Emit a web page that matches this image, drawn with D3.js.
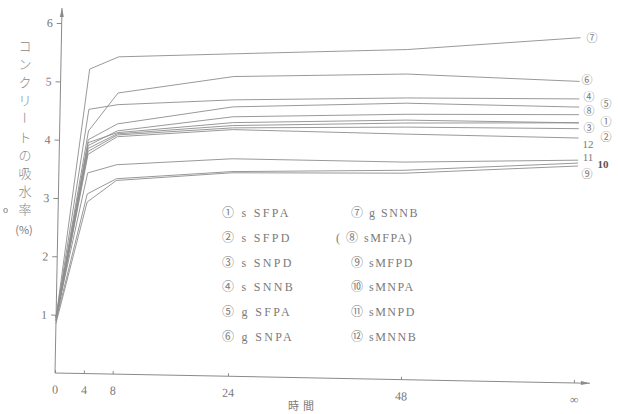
<!DOCTYPE html>
<html>
<head>
<meta charset="utf-8">
<script src="https://cdn.jsdelivr.net/npm/d3@7"></script>
<style>
  body { margin: 0; background: #fff; }
</style>
</head>
<body>
<div id="chart"></div>
<script>
// time (h), last point is "∞"
hours = [0, 4, 8, 24, 48, 72]
hourLabels = ["0", "4", "8", "24", "48", "∞"]
yTicks = [1, 2, 3, 4, 5, 6]

circled = ["①", "②", "③", "④", "⑤", "⑥", "⑦", "⑧", "⑨", "⑩", "⑪", "⑫"]
names = ["s SFPA", "s SFPD", "s SNPD", "s SNNB", "g SFPA", "g SNPA",
         "g SNNB", "sMFPA", "sMFPD", "sMNPA", "sMNPD", "sMNNB"]

// water absorption (%) per series, at hours[]
s1  = [0.95, 3.96, 4.14, 4.35, 4.45, 4.46]
s2  = [0.90, 3.81, 4.10, 4.26, 4.33, 4.36]
s3  = [0.90, 3.86, 4.12, 4.30, 4.40, 4.46]
s4  = [0.95, 4.53, 4.62, 4.74, 4.83, 4.87]
s5  = [0.95, 4.01, 4.29, 4.62, 4.74, 4.73]
s6  = [0.95, 4.16, 4.82, 5.14, 5.24, 5.17]
s7  = [0.95, 5.22, 5.44, 5.53, 5.66, 5.92]
s8  = [0.95, 3.91, 4.17, 4.45, 4.55, 4.60]
s9  = [0.85, 2.94, 3.32, 3.49, 3.54, 3.72]
s10 = [0.90, 3.08, 3.35, 3.51, 3.59, 3.77]
s11 = [0.95, 3.44, 3.59, 3.73, 3.73, 3.82]
s12 = [0.90, 3.76, 4.07, 4.23, 4.21, 4.20]
series = [s1, s2, s3, s4, s5, s6, s7, s8, s9, s10, s11, s12]

// labels written at the right end of the lines
endLabels = ["⑦", "⑥", "④", "⑤", "⑧", "①", "③", "②", "12", "11", "10", "⑨"]

width = 618
height = 414
ox = 55, oy = 373   // origin of the plot

grey = "#8a8a8a"
txt = "#7a7a7a"
serif = "'Liberation Serif', 'Noto Sans CJK JP', serif"
jp = "'Noto Sans CJK JP', sans-serif"

svg = d3.select("#chart")
  .append("svg")
  .attr("width", width)
  .attr("height", height)
  .style("font-family", serif)

// the scanned figure is turned by about one degree
plot = svg.append("g")
  .attr("transform", `rotate(1.1, ${ox}, ${oy})`)

x = d3.scaleLinear().domain([0, 72]).range([ox, 574])
y = d3.scaleLinear().domain([0, 6]).range([oy, 23])

// x axis
xAxis = plot.append("g")
  .attr("transform", `translate(0, ${oy})`)
  .call(d3.axisBottom(x).tickValues(hours).tickSize(-3).tickPadding(12)
    .tickFormat((d, i) => hourLabels[i]))
xAxis.attr("font-family", null).attr("font-size", null)
xAxis.select(".domain").remove()
xAxis.selectAll("line").attr("stroke", grey)
xAxis.selectAll("text").style("font-family", serif).style("font-size", "12px").attr("fill", txt)

// y axis
yAxis = plot.append("g")
  .attr("transform", `translate(${ox}, 0)`)
  .call(d3.axisLeft(y).tickValues(yTicks).tickSize(5).tickPadding(4).tickFormat(d3.format("d")))
yAxis.attr("font-family", null).attr("font-size", null)
yAxis.select(".domain").remove()
yAxis.selectAll("line").attr("stroke", grey)
yAxis.selectAll("text").style("font-family", serif).style("font-size", "12px").attr("fill", txt)

// axis lines with arrows
plot.append("line")
  .attr("x1", ox).attr("y1", oy).attr("x2", 590).attr("y2", oy)
  .attr("stroke", grey).attr("stroke-width", 1)
plot.append("path")
  .attr("d", `M590,${oy} l-9,-2 l0,4 z`)
  .attr("fill", grey)
plot.append("line")
  .attr("x1", ox).attr("y1", oy).attr("x2", ox).attr("y2", 8)
  .attr("stroke", grey).attr("stroke-width", 1)
plot.append("path")
  .attr("d", `M${ox},8 l-2,9 l4,0 z`)
  .attr("fill", grey)

// curves
line = d3.line()
  .x((d, i) => x(hours[i]))
  .y(d => y(d))

plot.selectAll(".curve")
  .data(series)
  .join("path")
    .attr("class", "curve")
    .attr("d", line)
    .attr("fill", "none")
    .attr("stroke", "#8e8e8e")
    .attr("stroke-width", 0.9)

// labels at the right end (placed on the page, not rotated)
endPos = [[592, 38], [587, 80], [589, 97], [606, 104], [589, 111], [606, 122],
          [589, 128], [606, 137], [588, 144], [588, 157], [603, 164], [587, 174]]
svg.selectAll(".endlab")
  .data(endLabels)
  .join("text")
    .attr("class", "endlab")
    .attr("x", (d, i) => endPos[i][0])
    .attr("y", (d, i) => endPos[i][1])
    .attr("text-anchor", "middle")
    .attr("dominant-baseline", "central")
    .style("font-size", "11px")
    .style("font-weight", d => d == "10" ? "bold" : "normal")
    .attr("fill", d => d == "10" ? "#555" : txt)
    .text(d => d)

// legend, two columns of six
legend = svg.append("g")
legend.selectAll(".lg")
  .data(names)
  .join("text")
    .attr("class", "lg")
    .attr("x", (d, i) => i < 6 ? 222 : 351)
    .attr("y", (d, i) => 213 + (i % 6) * 24.8)
    .attr("dominant-baseline", "central")
    .style("font-size", "12px")
    .style("letter-spacing", (d, i) => i < 6 ? "2.3px" : "1.5px")
    .attr("fill", txt)
    .text((d, i) => i == 7 ? "" : circled[i] + " " + d)
// ⑧ is written in brackets
legend.append("text")
  .attr("x", 336).attr("y", 213 + 24.8)
  .attr("dominant-baseline", "central")
  .style("font-size", "12px")
  .style("letter-spacing", "1.5px")
  .attr("fill", txt)
  .text("( " + circled[7] + " " + names[7] + ")")

// y title, written top to bottom
yTitle = "コンクリートの吸水率"
svg.selectAll(".yt")
  .data(yTitle.split(""))
  .join("text")
    .attr("class", "yt")
    .attr("text-anchor", "middle")
    .attr("dominant-baseline", "central")
    .attr("transform", (d, i) => `translate(25, ${45 + i * 18.2})` + (d == "ー" ? " rotate(90)" : ""))
    .style("font-family", jp)
    .style("font-size", "13px")
    .style("font-weight", 300)
    .attr("fill", "#8a8a8a")
    .text(d => d)
svg.append("text")
  .attr("x", 24).attr("y", 229)
  .attr("text-anchor", "middle")
  .attr("dominant-baseline", "central")
  .style("font-family", jp)
  .style("font-size", "11px")
  .attr("fill", txt)
  .text("(%)")
svg.append("text")
  .attr("x", 3).attr("y", 209)
  .attr("dominant-baseline", "central")
  .style("font-size", "10px")
  .attr("fill", txt)
  .text("o")

// x title
svg.append("text")
  .attr("x", 303).attr("y", 405)
  .attr("text-anchor", "middle")
  .attr("dominant-baseline", "central")
  .style("font-family", jp)
  .style("font-size", "11px")
  .style("letter-spacing", "4px")
  .attr("fill", txt)
  .text("時間")
</script>
</body>
</html>
